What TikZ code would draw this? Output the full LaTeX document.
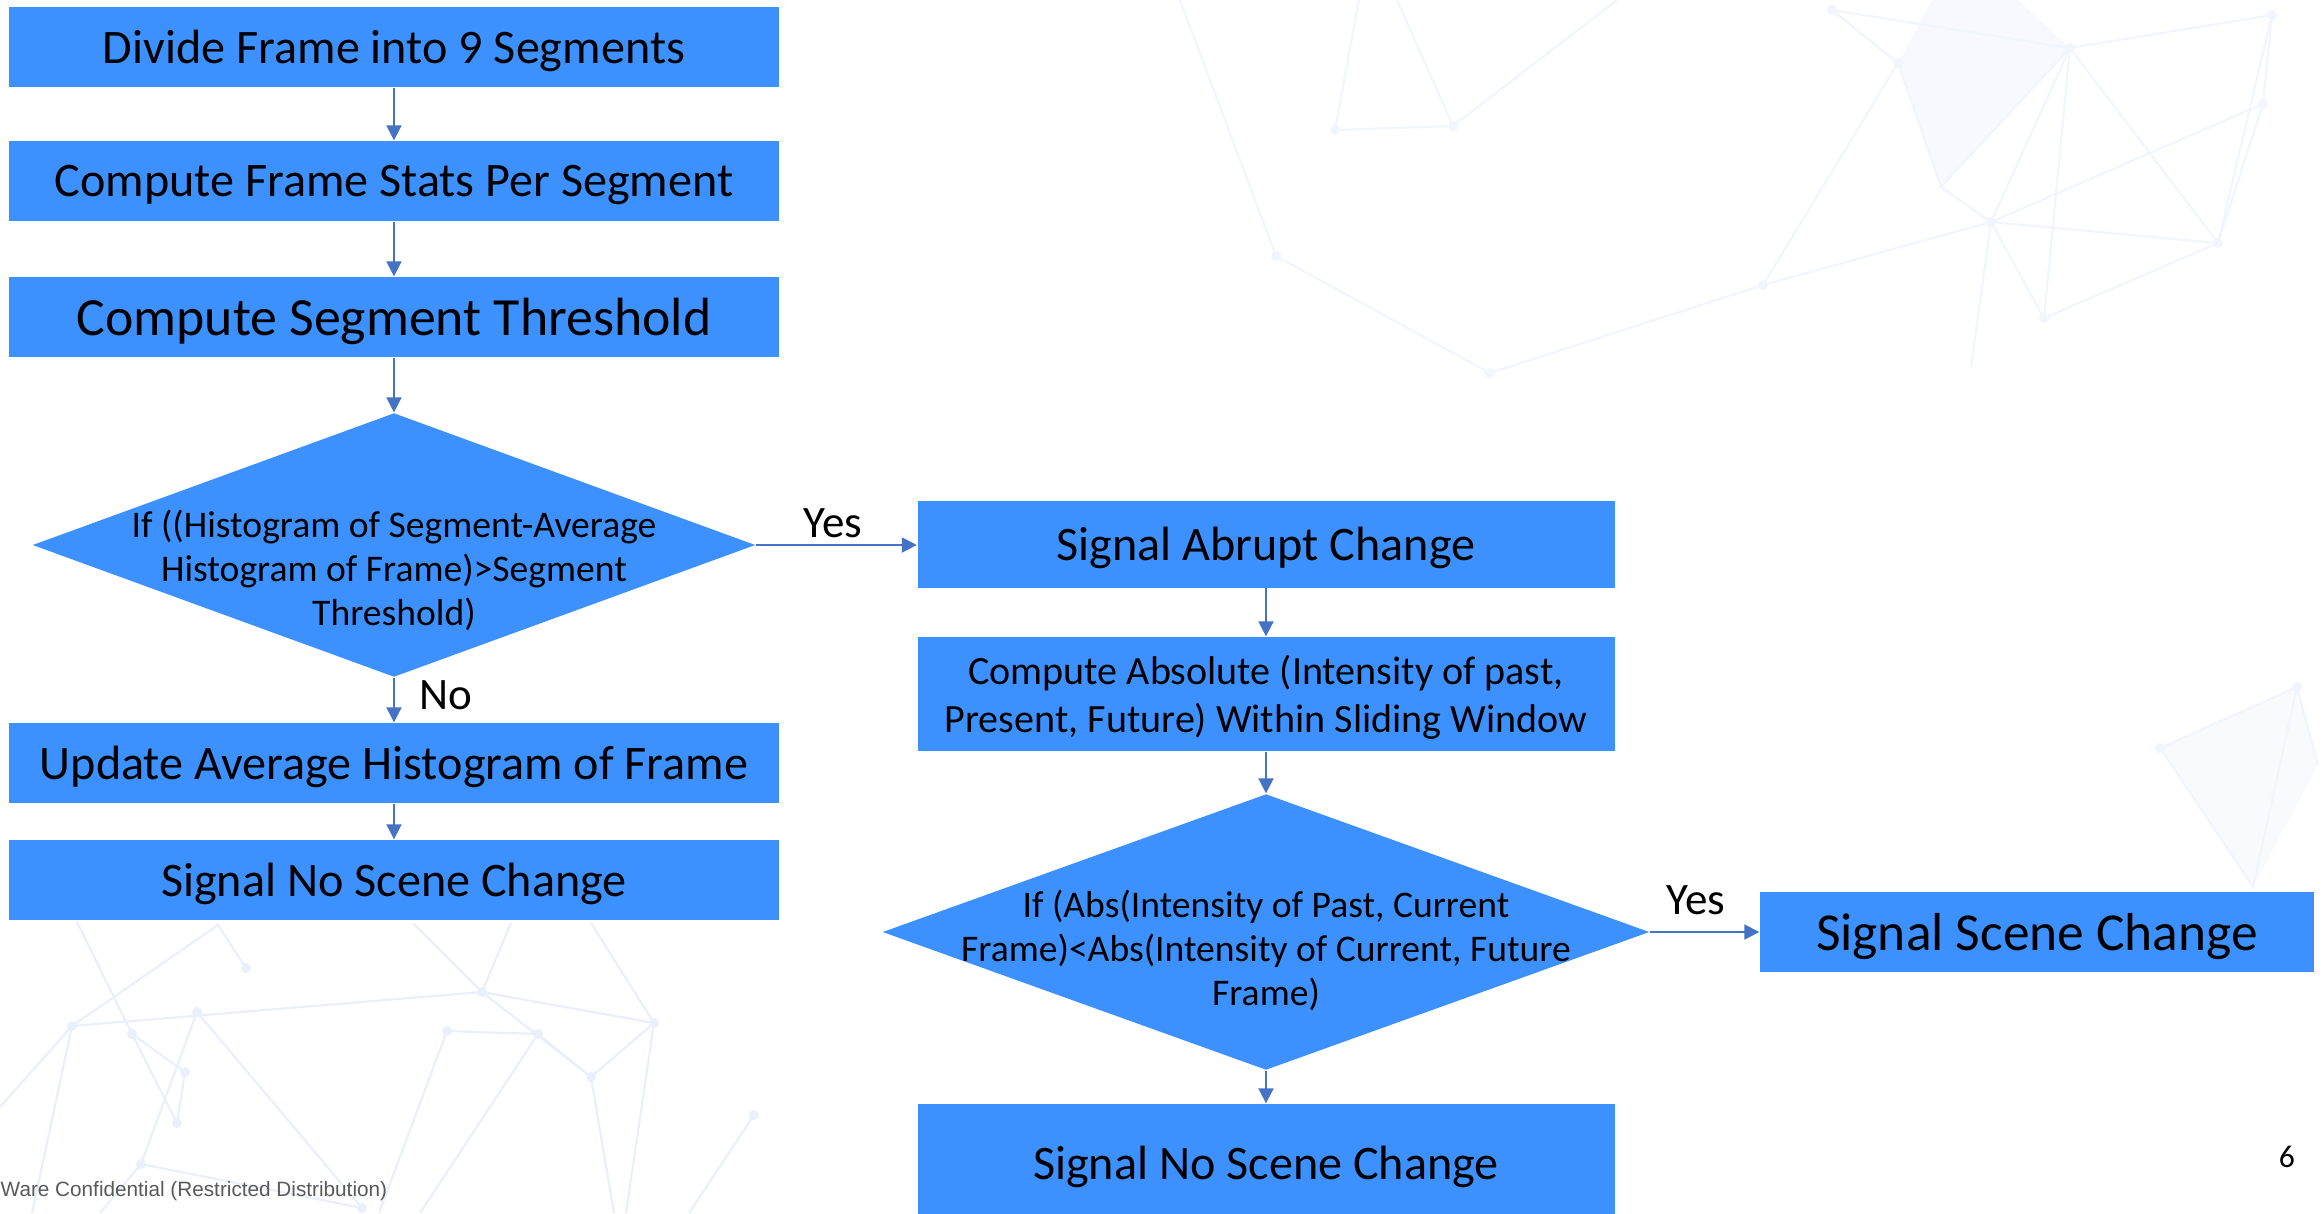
\documentclass[tikz,border=0pt]{standalone}
\usepackage{fontspec}
\setmainfont{Carlito}
\newfontfamily\footfont{Liberation Sans}
\usetikzlibrary{arrows.meta,shapes.geometric}
\definecolor{boxblue}{RGB}{61,145,255}
\definecolor{flowblue}{RGB}{68,114,196}
\definecolor{netblue}{RGB}{234,239,252}
\definecolor{netfaint}{RGB}{241,245,253}
\definecolor{footgrey}{RGB}{89,89,89}
\tikzset{
	stepbox/.style={fill=boxblue,inner sep=0,minimum width=77mm,minimum height=8mm,align=center,text depth=0pt,font=\fontsize{13.7}{16}\selectfont},
	widebox/.style={stepbox,minimum width=69.7mm},
	decide/.style={diamond,fill=boxblue,inner sep=0},
	decidetext/.style={align=center,inner sep=0,font=\fontsize{10.7}{12.5}\selectfont},
	answer/.style={inner sep=0,font=\fontsize{12.8}{15}\selectfont},
	flow/.style={draw=flowblue,line width=0.55pt,-{Triangle[length=1.5mm,width=1.5mm]}},
	net/.style={draw=netblue,line width=0.6pt},
	netlight/.style={draw=netfaint,line width=0.6pt},
}
\begin{document}
\begin{tikzpicture}[x=0.1mm,y=-0.1mm]
	\path[use as bounding box,fill=white](0,0)rectangle(2323,1213);
	% faint network in the background
	\fill[netfaint!60](1932,0)--(2018,0)--(2070,48)--(1941,187)--(1898,63)--cycle;
	\fill[netfaint!50](2160,748)--(2297,687)--(2318,765)--(2253,887)--cycle;
	\draw[netlight](1180,0)--(1276,256)--(1490,373)--(1763,285)--(1898,63)--(1832,10)--(2070,48);
	\draw[netlight](1763,285)--(1991,222)--(2218,243)--(2263,104)--(2272,15)--(2070,48)--(1991,222)--(2263,104);
	\draw[netlight](2070,48)--(2044,318)--(2218,243)--(2070,48);
	\draw[netlight](2272,15)--(2218,243);
	\draw[netlight](1991,222)--(2044,318);
	\draw[netlight](1898,63)--(1941,187)--(2070,48);
	\draw[netlight](1941,187)--(1991,222)--(1971,367);
	\draw[netlight](1359,0)--(1335,130)--(1453,126)--(1397,0);
	\draw[netlight](1453,126)--(1617,0);
	\draw[netlight](2160,748)--(2297,687)--(2318,765);
	\draw[netlight](2160,748)--(2253,887)--(2297,687);
	\draw[net](0,1107)--(72,1026)--(218,925)--(246,968);
	\draw[net](72,1026)--(32,1213);
	\draw[net](72,1026)--(482,992);
	\draw[net](77,922)--(132,1034)--(185,1072)--(177,1123)--(132,1034);
	\draw[net](197,1012)--(141,1164)--(362,1208)--(197,1012);
	\draw[net](141,1164)--(100,1213);
	\draw[net](447,1031)--(538,1034)--(591,1077)--(482,992)--(413,923);
	\draw[net](482,992)--(511,923);
	\draw[net](447,1031)--(379,1213);
	\draw[net](538,1034)--(420,1213);
	\draw[net](591,1077)--(654,1023)--(591,923);
	\draw[net](654,1023)--(482,992);
	\draw[net](591,1077)--(614,1213);
	\draw[net](654,1023)--(626,1213);
	\draw[net](754,1115)--(689,1213);
	\foreach \p in {(2272,15),(2263,104),(2218,243),(2070,48),(1898,63),(1832,10),(1991,222),(2044,318),(1763,285),(1490,373),(1276,256),(1335,130),(1453,126),(2160,748),(2297,687)}
		\fill[netfaint]\p circle(5);
	\foreach \p in {(72,1026),(197,1012),(246,968),(132,1034),(185,1072),(177,1123),(141,1164),(362,1208),(447,1031),(538,1034),(482,992),(591,1077),(654,1023),(754,1115)}
		\fill[netblue]\p circle(5);
	% left column
	\node(divide)at(394,47)[stepbox]{Divide Frame into 9 Segments};
	\node(stats)at(394,181)[stepbox]{Compute Frame Stats Per Segment};
	\node(thresh)at(394,317)[stepbox,font=\fontsize{15.3}{18}\selectfont]{Compute Segment Threshold};
	\node(histif)at(394,545)[decide,minimum width=72.3mm,minimum height=26.4mm]{};
	\node(histtext)at(394,570)[decidetext]{If ((Histogram of Segment-Average\\Histogram of Frame)>Segment\\Threshold)};
	\node(update)at(394,763)[stepbox]{Update Average Histogram of Frame};
	\node(nochange)at(394,880)[stepbox]{Signal No Scene Change};
	% right column
	\node(abrupt)at(1266,544)[widebox,minimum height=8.7mm]{Signal Abrupt Change};
	\node(absint)at(1266,694)[widebox,minimum height=11.4mm,font=\fontsize{11.4}{13.8}\selectfont]{Compute Absolute (Intensity of past,\\Present, Future) Within Sliding Window};
	\node(absif)at(1266,932)[decide,minimum width=76.7mm,minimum height=27.6mm]{};
	\node(abstext)at(1266,950)[decidetext]{If (Abs(Intensity of Past, Current\\Frame)<Abs(Intensity of Current, Future\\Frame)};
	\node(scene)at(2037,932)[stepbox,minimum width=55.4mm,font=\fontsize{15.2}{18}\selectfont]{Signal Scene Change};
	\node(noscene)at(1266,1163)[widebox,minimum height=11.8mm]{Signal No Scene Change};
	% labels
	\node(yesone)at(833,523)[answer]{Yes};
	\node(noone)at(446,695)[answer]{No};
	\node(yestwo)at(1696,900)[answer]{Yes};
	\node(conf)at(0,1191)[anchor=west,inner sep=0,text=footgrey,font=\footfont\fontsize{5.9}{7}\selectfont]{Ware Confidential (Restricted Distribution)};
	\node(pagenum)at(2287,1157)[inner sep=0,font=\fontsize{9}{11}\selectfont]{6};
	% connectors
	\draw[flow](divide)--(stats);
	\draw[flow](stats)--(thresh);
	\draw[flow](thresh)--(histif);
	\draw[flow](histif.east)--(abrupt.west|-histif.east);
	\draw[flow](histif)--(update);
	\draw[flow](update)--(nochange);
	\draw[flow](abrupt)--(absint);
	\draw[flow](absint)--(absif);
	\draw[flow](absif.east)--(scene.west|-absif.east);
	\draw[flow](absif)--(noscene);
\end{tikzpicture}
\end{document}
